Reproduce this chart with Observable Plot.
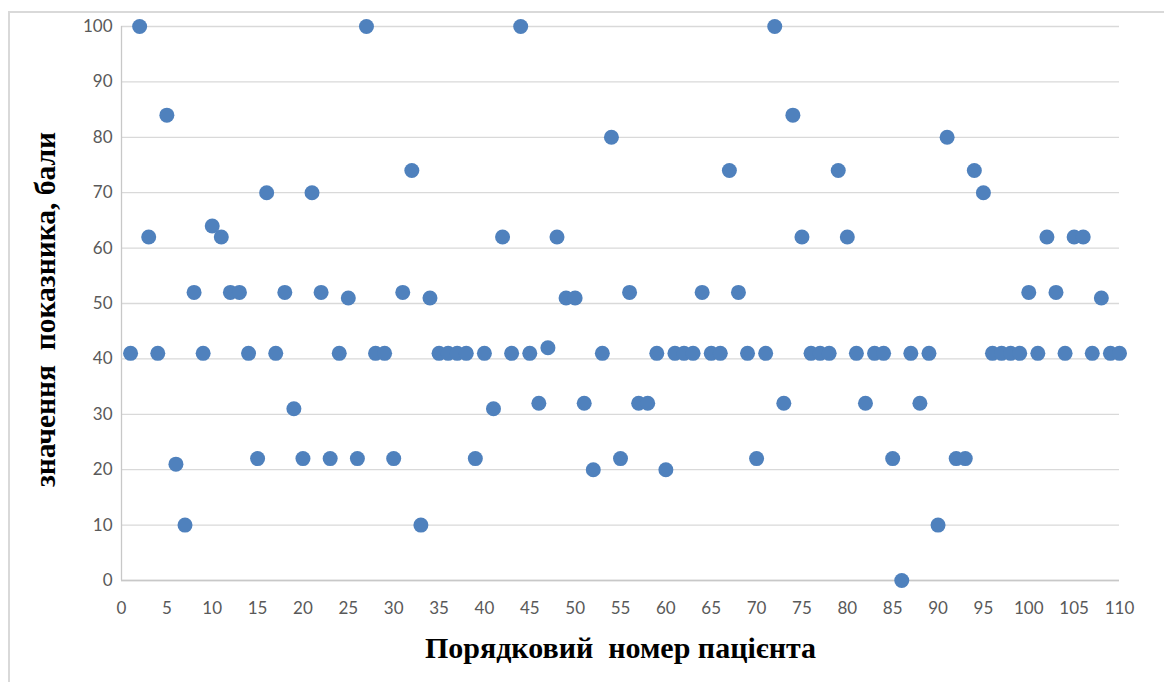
<!DOCTYPE html>
<html><head><meta charset="utf-8">
<script src="https://cdn.jsdelivr.net/npm/d3@7"></script>
<script src="https://cdn.jsdelivr.net/npm/@observablehq/plot@0.6"></script>
<style>
body{margin:0;background:#fff;}
#wrap{position:relative;width:1164px;height:682px;overflow:hidden;}
#border{position:absolute;left:8px;top:11px;right:-10px;bottom:-10px;border-top:2px solid #d9d9d9;border-left:2px solid #d9d9d9;}
#chart{position:absolute;left:0;top:0;}
</style></head><body><div id="wrap"><div id="border"></div><div id="chart"></div></div>
<script>
const scores = [
  41,100,62,41,84,21,10,52,41,64,
  62,52,52,41,22,70,41,52,31,22,
  70,52,22,41,51,22,100,41,41,22,
  52,74,10,51,41,41,41,41,22,41,
  31,62,41,100,41,32,42,62,51,51,
  32,20,41,80,22,52,32,32,41,20,
  41,41,41,52,41,41,74,52,41,22,
  41,100,32,84,62,41,41,41,74,62,
  41,32,41,41,22,0,41,32,41,10,
  80,22,22,74,70,41,41,41,41,52,
  41,62,52,41,62,62,41,51,41,41
];
const xTicks = [0,5,10,15,20,25,30,35,40,45,50,55,60,65,70,75,80,85,90,95,100,105,110];
const yTicks = [0,10,20,30,40,50,60,70,80,90,100];
const xTitle = "Порядковий\u00a0 номер пацієнта";
const yTitle = "значення\u00a0 показника, бали";
const data = scores.map((s, i) => ({patient: i + 1, score: s}));

const chart = Plot.plot({
  width: 1164, height: 682,
  marginLeft: 121, marginRight: 45, marginTop: 26, marginBottom: 102,
  x: {domain: [0, 110]},
  y: {domain: [0, 100]},
  style: {fontFamily: "Lato, 'Open Sans', sans-serif", background: "transparent", overflow: "visible"},
  marks: [
    Plot.gridY(yTicks, {stroke: "#d9d9d9", strokeOpacity: 1, strokeWidth: 1.3}),
    Plot.ruleX([0], {stroke: "#c8c8c8", strokeWidth: 1.3}),
    Plot.ruleY([0], {stroke: "#c8c8c8", strokeWidth: 1.3}),
    Plot.axisX(xTicks, {tickSize: 0, tickPadding: 21, fontSize: 17, color: "#595959", label: null}),
    Plot.axisY(yTicks, {tickSize: 0, tickPadding: 9, fontSize: 17, color: "#595959", label: null}),
    Plot.dot(data, {x: "patient", y: "score", r: 7.5, fill: "#4f81bd"}),
    Plot.text([xTitle], {text: d => d, frameAnchor: "bottom", lineAnchor: "middle", textAnchor: "middle", dy: 68, fontSize: 30, fontWeight: "bold", fontFamily: "'Liberation Serif', serif", fill: "#000"}),
    Plot.text([yTitle], {text: d => d, frameAnchor: "left", lineAnchor: "middle", textAnchor: "middle", dx: -76, dy: 6, rotate: -90, fontSize: 29.5, fontWeight: "bold", fontFamily: "'Liberation Serif', serif", fill: "#000"})
  ]
});
document.getElementById("chart").appendChild(chart);
</script>
</body></html>
